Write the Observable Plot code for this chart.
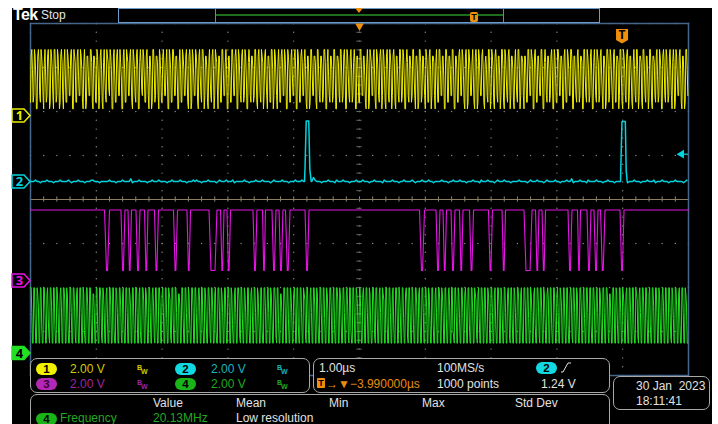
<!DOCTYPE html>
<html><head><meta charset="utf-8">
<script src="https://cdn.jsdelivr.net/npm/d3@7"></script>
<script src="https://cdn.jsdelivr.net/npm/@observablehq/plot@0.6"></script>
<style>
html,body{margin:0;padding:0;background:#fff;}
#page{position:relative;width:718px;height:424px;overflow:hidden;background:#fff;font-family:"Liberation Sans",Arial,sans-serif;}
#screen{position:absolute;left:12px;top:8px;width:700px;height:416px;background:#000;}
#screen svg{position:absolute;left:0;top:0;}
.t{position:absolute;white-space:nowrap;font-size:12px;line-height:12px;color:#e2e2e2;}
.box{position:absolute;border:1px solid #a8a8a8;border-radius:7px;background:#000;box-sizing:border-box;}
.badge{position:absolute;width:21px;height:12px;border-radius:6px;color:#000;font-weight:bold;font-size:11.5px;line-height:12px;text-align:center;}
.bw{position:absolute;font-size:7px;line-height:7px;font-weight:bold;white-space:nowrap;}
.bw span{position:relative;top:4px;left:-1px;}
</style></head><body>
<div id="page">
  <div id="screen"></div>

  <!-- header -->
  <div class="t" style="left:13px;top:7px;font-size:16px;line-height:16px;font-weight:bold;color:#fff;letter-spacing:-0.6px">Tek</div>
  <div class="t" style="left:41px;top:9px;color:#e6e6e6">Stop</div>
  <div style="position:absolute;left:118px;top:8px;width:482px;height:15px;border:1px solid #6d9ccc;box-sizing:border-box;background:#000"></div>
  <div style="position:absolute;left:215px;top:9px;width:289px;height:13px;border-left:1px solid #8a806c;border-right:1px solid #8a806c;box-sizing:border-box"></div>
  <div style="position:absolute;left:216px;top:14px;width:287px;height:2px;background:#1d6e1d"></div>
  <div style="position:absolute;left:355px;top:8px;width:0;height:0;border-left:4px solid transparent;border-right:4px solid transparent;border-top:5px solid #f0900a"></div>
  <div style="position:absolute;left:470px;top:12px;width:8px;height:10px;background:#f0900a;border-radius:2px;color:#000;font-size:9px;line-height:10px;font-weight:bold;text-align:center">T</div>

  <!-- channel readout -->
  <div class="box" style="left:30px;top:358px;width:280px;height:35px"></div>
  <div class="badge" style="left:36px;top:363px;background:#f2f200">1</div>
  <div class="t" style="left:70px;top:363px;color:#d2cc00">2.00 V</div>
  <div class="bw" style="left:137px;top:364px;color:#d2cc00">B<span>W</span></div>
  <div class="badge" style="left:175px;top:363px;background:#12d8e2">2</div>
  <div class="t" style="left:211px;top:363px;color:#1cb4bc">2.00 V</div>
  <div class="bw" style="left:277px;top:364px;color:#1cb4bc">B<span>W</span></div>
  <div class="badge" style="left:36px;top:378px;background:#b426b4;color:#3a003a">3</div>
  <div class="t" style="left:70px;top:377.5px;color:#a020a4">2.00 V</div>
  <div class="bw" style="left:137px;top:379px;color:#a020a4">B<span>W</span></div>
  <div class="badge" style="left:175px;top:378px;background:#18b418">4</div>
  <div class="t" style="left:211px;top:377.5px;color:#22a822">2.00 V</div>
  <div class="bw" style="left:277px;top:379px;color:#22a822">B<span>W</span></div>

  <!-- timebase readout -->
  <div class="box" style="left:313px;top:358px;width:297px;height:35px"></div>
  <div class="t" style="left:319px;top:362px">1.00µs</div>
  <div class="t" style="left:437px;top:362px">100MS/s</div>
  <div class="badge" style="left:536px;top:362px;background:#12d8e2">2</div>
  <svg style="position:absolute;left:560px;top:362px" width="12" height="11"><path d="M1,10 L3,10 L8,1 L11,1" fill="none" stroke="#e2e2e2" stroke-width="1"/></svg>
  <div style="position:absolute;left:317px;top:378px;width:8px;height:10px;background:#f0900a;border-radius:1px;color:#000;font-size:9px;line-height:10px;font-weight:bold;text-align:center">T</div>
  <div class="t" style="left:326px;top:377.5px;color:#e88c10">→▼−3.990000µs</div>
  <div class="t" style="left:437px;top:377.5px">1000 points</div>
  <div class="t" style="left:541px;top:377.5px">1.24 V</div>

  <!-- date -->
  <div class="box" style="left:613px;top:376px;width:97px;height:34px"></div>
  <div class="t" style="left:636px;top:380px">30 Jan&nbsp;&nbsp;2023</div>
  <div class="t" style="left:636px;top:395px">18:11:41</div>

  <!-- measurement -->
  <div class="box" style="left:30px;top:394px;width:580px;height:40px"></div>
  <div class="t" style="left:153px;top:397px">Value</div>
  <div class="t" style="left:236px;top:397px">Mean</div>
  <div class="t" style="left:329px;top:397px">Min</div>
  <div class="t" style="left:422px;top:397px">Max</div>
  <div class="t" style="left:515px;top:397px">Std Dev</div>
  <div class="badge" style="left:36px;top:413px;background:#18b418">4</div>
  <div class="t" style="left:60px;top:412px;color:#22a822">Frequency</div>
  <div class="t" style="left:153px;top:412px;color:#22a822">20.13MHz</div>
  <div class="t" style="left:236px;top:412px">Low resolution</div>
</div>
<script>
// ---- acquisition settings ----
const timeDomain = [-5, 5];          // µs, 1.00 µs/div, 10 divisions
const divDomain = [-4, 4];           // vertical divisions
const voltsPerDiv = 2.0;
const triggerPosition = 3.99;        // µs from centre
const triggerLevel = 1.24;           // V on channel 2

const channelNames = ["1", "2", "3", "4"];
const channelColors = ["#ecec00", "#00d4de", "#e414e4", "#22e022"];
const channelOffsets = [1.91, 0.41, -1.84, -3.49]; // divisions

// ---- channel 1 (yellow): sampled levels, digit d -> 0.3 + 0.3*d V ----
const ch1Samples = `
18961 29850 08972 19862 07951 28960 19862 09961 29850 18972
07951 19862 28960 09871 18952 29861 07960 18852 29971 08861
19850 28961 07952 19873 29860 08951 18962 29750 08961 19872
28951 09862 18960 07973 29851 18962 08850 19961 28872 09851
18962 27950 09861 19972 28850 07961 19862 28951 08970 19852
29861 08952 19970 28861 07952 18960 29873 08851 19962 27960
08851 19962 28970 09852 18961 29850 07972 18861 29951 08962
19870 28952 08861 19960 29852 07961 18972 29850 09861 18952
28960 09851 18972 27961 08850 19962 28871 09952 18861 29970
07952 18861 29960 08872 19951 28960 09852 18961 27970 08851
19962 28851 07960 19872 28951 09862 18970 29851 08962 19860
28971 08852 19961 29850 07972 18861 29952 08860 19971 28852
09861 18960 28872 07951 19962 28850 09971 18862 29950 08861
18972 29851 08960 19862 27951 08970 19852 28961 07862 19950
29861 08972 18850 29961 09852 18970 28861 07952 19960 28872
08851 19962 29870 08961 18852 29950 07972 18861 28960 09851
19972 28860 08951 19862 29970 08852 18961 28870 09952 19861
28950 07962 19871 28952 08860 19971 29852 08961 18870 29951
09862 18970 28851 07962 19950 28871 09962 18850 29961 08872
18951 29860 08972 19851 28962 07970 19852 28961 08850 19962`;

// ---- channel 2 (cyan): baseline noise, digit d -> (d-4)*0.06 V, plus pulses [µs, V] ----
const ch2Noise = `
44454434445444344454444543444544434445544434444454
44344454444634445444434454445444434454444544434445
45443444544443454445444534444454434445444544443454
44454443444544454434447544434445444354445444344454
44544434454444354444544434454444543444544454434444
54443445444544434445444354445444345444544434444544
44345444544434544445443444544634445444354444544434
45444344454443444544434445444534445444344454444345`;
const ch2PulseTimes = [-0.836, -0.828, -0.810, -0.771, -0.755, -0.734, 3.967, 3.971, 3.989, 4.040, 4.053, 4.068];
const ch2PulseVolts = [0, 0.6, 2.75, 2.75, 0.55, 0, 0, 0.6, 2.72, 2.72, 0.5, 0];

// ---- channel 3 (magenta): data line, low pulses (fall, rise) in µs ----
const ch3High = 3.2, ch3Low = 0.45;
const ch3Falls = [-3.875, -3.625, -3.518, -3.397, -3.267, -3.116, -2.827, -2.622, -2.287, -2.112, -2.014,
  -1.619, -1.474, -1.330, -1.223, -1.125, -0.828,
  0.912, 1.163, 1.269, 1.391, 1.520, 1.672, 1.960, 2.166, 2.500, 2.675, 2.774,
  3.169, 3.313, 3.457, 3.564, 3.663, 3.959];
const ch3Rises = [-3.799, -3.564, -3.465, -3.336, -3.214, -3.055, -2.766, -2.568, -2.166, -2.059, -1.960,
  -1.558, -1.429, -1.269, -1.163, -1.056, -0.767,
  0.988, 1.223, 1.322, 1.451, 1.573, 1.733, 2.021, 2.219, 2.622, 2.728, 2.827,
  3.229, 3.359, 3.518, 3.625, 3.731, 4.020];

// ---- channel 4 (green): sampled levels, digit d -> 0.45 + 0.28*d V ----
const ch4Samples = `
99500 99400 98600 99300 99500 89410 99600 99300 98500 89600
99700 98300 99500 99610 89400 99500 98200 99600 99400 88500
99300 99710 98500 89400 99600 99200 98500 99610 89300 99500
98600 99400 99500 89200 99700 98400 99500 89610 99300 99600
89500 99400 98710 99300 99500 88600 99400 99500 98300 99600
99500 89700 99300 98400 99610 99500 89200 99600 98500 99400
99600 98300 89500 99710 99400 98500 99300 89600 99500 98400
99200 99600 89500 98400 99710 99300 88500 99600 99400 98500
89600 99300 99500 98710 99400 89500 99600 98300 99500 99400
98500 99600 89300 99700 98400 99500 89610 99200 99500 98600
99400 89600 99500 98300 99610 99400 89500 98700 99300 99500
89300 99600 98500 99400 89710 99500 98300 99600 89400 99500
99600 98400 99300 89500 99700 98500 99400 89600 99210 99500
98400 99500 89600 99300 99500 98710 89400 99600 99300 98500
99500 89300 99600 98400 99500 89610 99400 98500 99700 89300
99600 99400 98500 89300 99610 99500 98400 89700 99300 99500
89500 98600 99400 99300 89710 99500 98300 99600 89400 99500
99300 99600 89500 98400 99500 99710 88400 99600 98300 99500
98600 89400 99500 99300 98710 89500 99600 99400 89300 99600
99500 98400 89600 99300 99510 98400 99600 89300 99500 98600`;

// ---- build tables ----
const toDiv = (ch, v) => channelOffsets[ch] + v / voltsPerDiv;
function sampled(str, ch, v0, dv) {
  const s = str.replace(/\s/g, "");
  const step = (timeDomain[1] - timeDomain[0]) / s.length;
  return Array.from(s, (c, i) => ({t: timeDomain[0] + i * step, y: toDiv(ch, v0 + dv * +c)}));
}
const ch1 = sampled(ch1Samples, 0, 0.3, 0.3);
const ch4 = sampled(ch4Samples, 3, 0.45, 0.28);

const noise = ch2Noise.replace(/\s/g, "");
const nStep = (timeDomain[1] - timeDomain[0]) / noise.length;
let ch2 = Array.from(noise, (c, i) => ({t: timeDomain[0] + i * nStep, y: toDiv(1, (+c - 4) * 0.06)}))
  .filter(d => !((d.t >= ch2PulseTimes[0] && d.t <= ch2PulseTimes[5]) || (d.t >= ch2PulseTimes[6] && d.t <= ch2PulseTimes[11])));
ch2 = ch2.concat(ch2PulseTimes.map((t, i) => ({t, y: toDiv(1, ch2PulseVolts[i])}))).sort((a, b) => a.t - b.t);

const ch3 = [{t: timeDomain[0], y: toDiv(2, ch3High)}];
ch3Falls.forEach((f, i) => {
  const r = ch3Rises[i], e = Math.min(0.03, (r - f) * 0.4);
  ch3.push({t: f, y: toDiv(2, ch3High)}, {t: f + e, y: toDiv(2, ch3Low)}, {t: r - e, y: toDiv(2, ch3Low)}, {t: r, y: toDiv(2, ch3High)});
});
ch3.push({t: timeDomain[1], y: toDiv(2, ch3High)});

// graticule
const majorX = d3.range(0, 11).map(i => timeDomain[0] + i);
const majorY = d3.range(0, 9).map(i => divDomain[0] + i);
const minorX = d3.range(0, 51).map(i => timeDomain[0] + i * 0.2);
const minorY = d3.range(0, 41).map(i => divDomain[0] + i * 0.2);
const gridPts = [];
majorY.forEach(y => minorX.forEach(x => gridPts.push({x, y})));
majorX.forEach(x => minorY.forEach(y => gridPts.push({x, y})));

const markers = channelNames.map((name, i) => ({name, y: channelOffsets[i], i}));
const markerSymbol = {draw(ctx) { ctx.moveTo(-9, -6.5); ctx.lineTo(3, -6.5); ctx.lineTo(9, 0); ctx.lineTo(3, 6.5); ctx.lineTo(-9, 6.5); ctx.closePath(); }};
const trigSymbol = {draw(ctx) { ctx.moveTo(-6, -7); ctx.lineTo(6, -7); ctx.lineTo(6, 4); ctx.lineTo(0, 7.5); ctx.lineTo(-6, 4); ctx.closePath(); }};
const orange = "#f0900a";

const plot = Plot.plot({
  width: 700, height: 416,
  marginLeft: 18, marginRight: 24, marginTop: 15, marginBottom: 49,
  x: {domain: timeDomain, axis: null},
  y: {domain: divDomain, axis: null},
  style: {background: "#000", overflow: "visible"},
  marks: [
    Plot.dot(gridPts, {x: "x", y: "y", r: 0.7, fill: "#8a8a8a", stroke: null}),
    Plot.ruleY([0], {stroke: "#8c7f60", strokeWidth: 1.2}),
    Plot.ruleX(minorX, {x: d => d, y1: -0.06, y2: 0.06, stroke: "#8a806a"}),
    Plot.ruleY(minorY, {y: d => d, x1: -0.04, x2: 0.04, stroke: "#666"}),
    Plot.frame({stroke: "#45668a", strokeWidth: 1.5}),
    Plot.line(ch1, {x: "t", y: "y", stroke: channelColors[0], strokeWidth: 1}),
    Plot.line(ch2, {x: "t", y: "y", stroke: channelColors[1], strokeWidth: 1.5}),
    Plot.line(ch3, {x: "t", y: "y", stroke: channelColors[2], strokeWidth: 1.1}),
    Plot.line(ch4, {x: "t", y: "y", stroke: channelColors[3], strokeWidth: 1}),
    // channel ground markers
    ...markers.map(m => Plot.dot([m], {x: () => timeDomain[0], y: "y", symbol: markerSymbol, dx: -9.5,
      fill: m.i === 3 ? channelColors[3] : "#000", stroke: channelColors[m.i], strokeWidth: 1.5})),
    ...markers.map(m => Plot.text([m], {x: () => timeDomain[0], y: "y", text: "name", dx: -11, dy: 0.5,
      fill: m.i === 3 ? "#000" : channelColors[m.i], fontWeight: "bold", fontSize: 13})),
    // horizontal position and trigger markers
    Plot.dot([0], {x: d => d, y: () => divDomain[1], symbol: "triangle", rotate: 180, r: 3.2, fill: orange, dy: 2.5}),
    Plot.dot([triggerPosition], {x: d => d, y: () => divDomain[1], symbol: trigSymbol, fill: orange, dy: 12.5}),
    Plot.text([triggerPosition], {x: d => d, y: () => divDomain[1], text: () => "T", dy: 11.5, fill: "#000", fontWeight: "bold", fontSize: 12}),
    Plot.dot([triggerLevel], {x: () => timeDomain[1], y: d => toDiv(1, d), symbol: "triangle", rotate: -90, r: 3.2, fill: channelColors[1], dx: -7}),
    Plot.ruleY([triggerLevel], {y: d => toDiv(1, d), x1: timeDomain[1] - 0.08, x2: timeDomain[1], stroke: channelColors[1], strokeWidth: 1.2})
  ]
});
document.getElementById("screen").append(plot);
</script>
</body></html>
